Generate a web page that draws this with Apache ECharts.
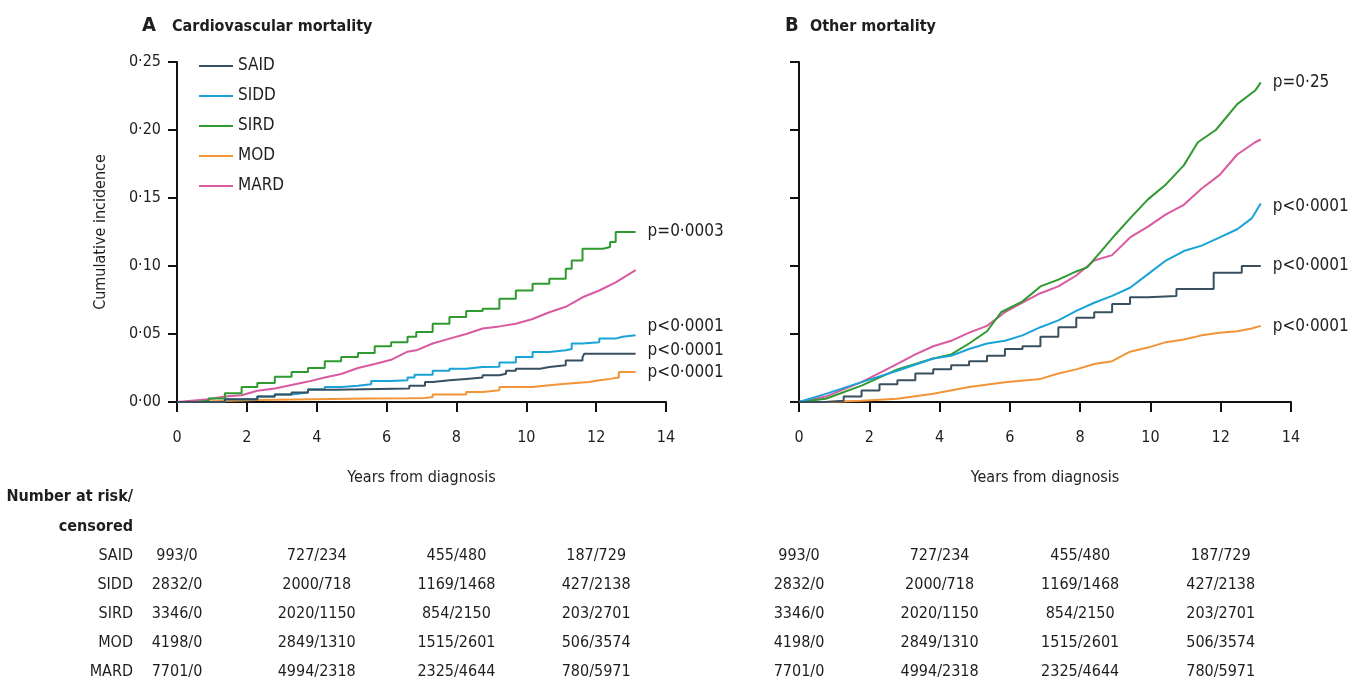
<!DOCTYPE html>
<html>
<head>
<meta charset="utf-8">
<title>Cumulative incidence of mortality by diabetes subgroup</title>
<script src="https://cdn.jsdelivr.net/npm/echarts@6/dist/echarts.min.js"></script>
<style>
  html, body { margin: 0; padding: 0; background: #fff; }
  #chart { width: 1357px; height: 691px; }
</style>
</head>
<body>
<div id="chart"></div>
<script>
// Subgroups, in legend order
const groups = ['SAID', 'SIDD', 'SIRD', 'MOD', 'MARD'];

// Cardiovascular mortality: [years from diagnosis, cumulative incidence]
const cvSAID = [[0,0],[1.37,0.002],[2.3,0.004],[2.8,0.0055],[3.28,0.007],[3.75,0.009],[4.5,0.010],[6.65,0.012],[7.1,0.0147],[7.32,0.016],[7.8,0.017],[8.28,0.018],[8.75,0.0196],[9.23,0.0208],[9.42,0.023],[9.7,0.0245],[10.4,0.0257],[10.66,0.027],[11.13,0.0306],[11.61,0.033],[11.66,0.0355],[13.13,0.0355]];
const cvSIDD = [[0,0],[1.37,0.002],[2.3,0.004],[2.8,0.0056],[3.28,0.007],[3.75,0.0093],[4.23,0.011],[4.7,0.012],[5.18,0.013],[5.56,0.0155],[6.13,0.016],[6.6,0.018],[6.8,0.020],[7.32,0.023],[7.8,0.0245],[8.28,0.0257],[8.75,0.026],[9.23,0.029],[9.7,0.033],[10.18,0.0368],[10.66,0.038],[11.13,0.039],[11.3,0.043],[11.61,0.044],[12.09,0.0466],[12.56,0.048],[12.75,0.049],[13.13,0.049]];
const cvSIRD = [[0,0],[0.5,0.001],[0.9,0.0025],[1.37,0.0064],[1.85,0.011],[2.3,0.014],[2.8,0.0186],[3.28,0.022],[3.75,0.025],[4.23,0.030],[4.7,0.033],[5.18,0.036],[5.66,0.041],[6.13,0.044],[6.6,0.048],[6.85,0.0515],[7.32,0.0576],[7.8,0.0625],[8.28,0.067],[8.75,0.0686],[9.23,0.076],[9.7,0.082],[10.18,0.087],[10.66,0.0907],[11.13,0.098],[11.3,0.104],[11.61,0.1127],[12.2,0.114],[12.4,0.1176],[12.56,0.125],[13.13,0.125]];
const cvMOD = [[0,0],[0.5,0.0005],[1.0,0.0015],[2.3,0.0025],[5.5,0.0027],[6.6,0.003],[7.1,0.0037],[7.32,0.0056],[8.28,0.0074],[8.75,0.0086],[9.23,0.011],[10.18,0.0123],[10.66,0.0135],[11.13,0.0147],[11.8,0.016],[12.09,0.017],[12.4,0.018],[12.65,0.022],[13.13,0.022]];
const cvMARD = [[0,0],[0.9,0.002],[1.37,0.004],[1.85,0.005],[2.3,0.0083],[2.8,0.010],[3.28,0.0125],[3.75,0.015],[4.23,0.018],[4.7,0.0206],[5.18,0.025],[5.66,0.028],[6.13,0.031],[6.6,0.037],[6.85,0.038],[7.32,0.043],[7.8,0.0466],[8.28,0.050],[8.75,0.054],[9.23,0.0556],[9.7,0.0576],[10.18,0.061],[10.66,0.066],[11.13,0.070],[11.61,0.077],[12.09,0.082],[12.56,0.088],[13.13,0.097]];

// Other mortality: [years from diagnosis, cumulative incidence]
const otSAID = [[0,0],[0.76,0.001],[1.27,0.004],[1.78,0.0085],[2.29,0.013],[2.8,0.016],[3.31,0.021],[3.82,0.024],[4.33,0.027],[4.84,0.030],[5.35,0.034],[5.86,0.039],[6.36,0.041],[6.87,0.048],[7.38,0.055],[7.89,0.062],[8.4,0.066],[8.91,0.072],[9.42,0.077],[9.93,0.078],[10.74,0.083],[11.8,0.095],[12.6,0.100],[13.14,0.100]];
const otSIDD = [[0,0],[0.76,0.006],[1.78,0.0146],[2.8,0.023],[3.82,0.032],[4.33,0.034],[4.84,0.039],[5.35,0.043],[5.86,0.045],[6.36,0.049],[6.87,0.055],[7.38,0.060],[7.89,0.067],[8.4,0.073],[8.91,0.078],[9.42,0.084],[9.93,0.094],[10.44,0.104],[10.95,0.111],[11.46,0.115],[11.97,0.121],[12.47,0.127],[12.88,0.135],[13.14,0.146]];
const otSIRD = [[0,0],[0.76,0.0024],[1.78,0.012],[2.8,0.024],[3.82,0.032],[4.33,0.035],[4.84,0.043],[5.35,0.052],[5.75,0.066],[6.36,0.074],[6.87,0.085],[7.38,0.090],[7.89,0.096],[8.2,0.099],[8.6,0.111],[9.0,0.123],[9.42,0.135],[9.93,0.149],[10.44,0.160],[10.95,0.174],[11.35,0.191],[11.86,0.200],[12.47,0.219],[12.98,0.229],[13.14,0.235]];
const otMOD = [[0,0],[0.76,0],[1.78,0.001],[2.8,0.0024],[3.82,0.006],[4.84,0.011],[5.86,0.0146],[6.87,0.017],[7.38,0.021],[7.89,0.024],[8.4,0.028],[8.91,0.030],[9.42,0.037],[9.93,0.040],[10.44,0.044],[10.95,0.046],[11.46,0.049],[11.97,0.051],[12.47,0.052],[12.88,0.054],[13.14,0.056]];
const otMARD = [[0,0],[0.76,0.004],[1.78,0.0146],[2.8,0.028],[3.31,0.035],[3.82,0.041],[4.33,0.045],[4.84,0.051],[5.35,0.056],[5.86,0.066],[6.36,0.073],[6.87,0.080],[7.38,0.085],[7.89,0.093],[8.4,0.104],[8.91,0.108],[9.42,0.121],[9.93,0.129],[10.44,0.138],[10.95,0.145],[11.46,0.157],[11.97,0.167],[12.47,0.182],[12.98,0.191],[13.14,0.193]];

// p values written at the end of each curve (same order as groups)
const pCardio = ['p<0·0001', 'p<0·0001', 'p=0·0003', 'p<0·0001', ''];
const pOther  = ['p<0·0001', 'p<0·0001', 'p=0·25',   'p<0·0001', ''];

// Number at risk / censored, at these years
const riskYears = [0, 4, 8, 12];
const riskSAID = ['993/0', '727/234', '455/480', '187/729'];
const riskSIDD = ['2832/0', '2000/718', '1169/1468', '427/2138'];
const riskSIRD = ['3346/0', '2020/1150', '854/2150', '203/2701'];
const riskMOD  = ['4198/0', '2849/1310', '1515/2601', '506/3574'];
const riskMARD = ['7701/0', '4994/2318', '2325/4644', '780/5971'];

const cvData = [cvSAID, cvSIDD, cvSIRD, cvMOD, cvMARD];
const otData = [otSAID, otSIDD, otSIRD, otMOD, otMARD];
const riskRows = [riskSAID, riskSIDD, riskSIRD, riskMOD, riskMARD];

const colors = ['#38505f', '#19a3d6', '#2f9a2f', '#f29437', '#d95a9e'];
const FONT = "'Liberation Sans Narrow', 'DejaVu Sans Condensed', 'Noto Sans', sans-serif";
const INK = '#1e1e1e';

// Stepped drawing for the curves whose steps are coarse; fine-grained ones as polylines
const stepCardio = [true, true, true, true, false];
const stepOther  = [true, false, false, false, false];
const labelShiftCardio = [-3, -9, 0, 0, 0];
const labelShiftOther  = [0, 3, 0, 1, 0];

const chart = echarts.init(document.getElementById('chart'), null, { renderer: 'canvas' });

const fmtY = v => v.toFixed(2).replace('.', '·');

function xAxisFor(gridIndex) {
  return {
    gridIndex, type: 'value', min: 0, max: 14, interval: 2,
    name: 'Years from diagnosis', nameLocation: 'middle', nameGap: 68,
    nameTextStyle: { fontFamily: FONT, fontSize: 16, color: INK },
    axisLine: { onZero: false, lineStyle: { color: '#111', width: 2 } },
    axisTick: { show: true, length: 10, lineStyle: { color: '#111', width: 2 } },
    axisLabel: { margin: 28, fontFamily: FONT, fontSize: 16, color: INK },
    splitLine: { show: false }
  };
}
function yAxisFor(gridIndex, withLabels) {
  return {
    gridIndex, type: 'value', min: 0, max: 0.25, interval: 0.05,
    name: withLabels ? 'Cumulative incidence' : '',
    nameLocation: 'middle', nameGap: 68, nameRotate: 90,
    nameTextStyle: { fontFamily: FONT, fontSize: 16, color: INK },
    axisLine: { show: true, lineStyle: { color: '#111', width: 2 } },
    axisTick: { show: true, length: 9, lineStyle: { color: '#111', width: 2 } },
    axisLabel: { show: withLabels, margin: 16, fontFamily: FONT, fontSize: 16, color: INK, formatter: fmtY },
    splitLine: { show: false }
  };
}

const series = [];
function addPanel(dataSets, pvals, steps, shifts, idx) {
  dataSets.forEach((d, i) => {
    series.push({
      name: groups[i], type: 'line', xAxisIndex: idx, yAxisIndex: idx,
      data: d, step: steps[i] ? 'end' : false, symbol: 'none', showSymbol: false,
      lineStyle: { color: colors[i], width: 2 }, itemStyle: { color: colors[i] },
      z: 10 - i,
      endLabel: {
        show: pvals[i] !== '', formatter: pvals[i], distance: 12,
        offset: [0, shifts[i]], fontFamily: FONT, fontSize: 17, color: INK
      }
    });
  });
}
addPanel(cvData, pCardio, stepCardio, labelShiftCardio, 0);
addPanel(otData, pOther, stepOther, labelShiftOther, 1);

chart.setOption({
  animation: false,
  backgroundColor: '#fff',
  grid: [
    { left: 177, top: 62, width: 489, height: 340 },
    { left: 799, top: 62, width: 492, height: 340 }
  ],
  xAxis: [xAxisFor(0), xAxisFor(1)],
  yAxis: [yAxisFor(0, true), yAxisFor(1, false)],
  legend: {
    data: groups, orient: 'vertical', left: 194, top: 51,
    icon: 'rect', itemWidth: 34, itemHeight: 2, itemGap: 10,
    textStyle: { fontFamily: FONT, fontSize: 17, color: INK, lineHeight: 20 },
    selectedMode: false
  },
  series
});

// Panel titles and the number-at-risk table (columns under the matching years of each panel)
function txt(x, y, text, size, weight, align) {
  return {
    type: 'text', x, y, silent: true,
    style: {
      text, fontFamily: FONT, fontSize: size, fontWeight: weight,
      fill: INK, align: align, verticalAlign: 'middle'
    }
  };
}
const elements = [
  txt(142, 26, 'A', 20, 'bold', 'left'),
  txt(172, 27, 'Cardiovascular mortality', 16, 'bold', 'left'),
  txt(785, 26, 'B', 20, 'bold', 'left'),
  txt(810, 27, 'Other mortality', 16, 'bold', 'left')
];
const headerRight = 133;
const rowY = [556, 585, 614, 643, 672];
elements.push(txt(headerRight, 497, 'Number at risk/', 16, 'bold', 'right'));
elements.push(txt(headerRight, 527, 'censored', 16, 'bold', 'right'));
groups.forEach((g, r) => {
  elements.push(txt(headerRight, rowY[r], g, 16, 'normal', 'right'));
  [0, 1].forEach(gi => {
    riskYears.forEach((yr, c) => {
      const px = chart.convertToPixel({ gridIndex: gi }, [yr, 0])[0];
      elements.push(txt(px, rowY[r], riskRows[r][c], 16, 'normal', 'center'));
    });
  });
});
chart.setOption({ graphic: { elements } });
</script>
</body>
</html>
